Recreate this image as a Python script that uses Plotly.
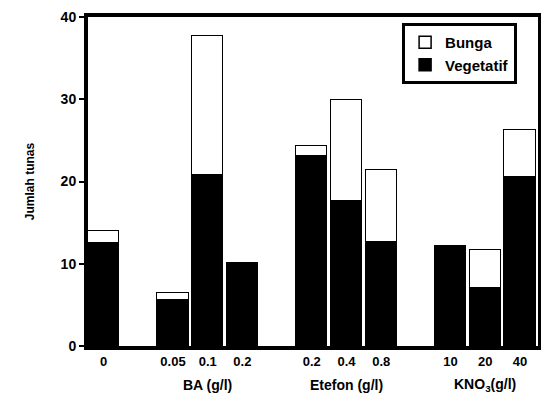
import plotly.graph_objects as go

# ---- data ----
group_names = ["", "BA (g/l)", "Etefon (g/l)", "KNO<sub>3</sub>(g/l)"]
group_ticks = [["0"], ["0.05", "0.1", "0.2"], ["0.2", "0.4", "0.8"], ["10", "20", "40"]]
vegetatif = [12.5, 5.6, 20.8, 10.1, 23.1, 17.6, 12.7, 12.2, 7.0, 20.6]
total = [14.0, 6.4, 37.7, 10.1, 24.3, 29.9, 21.4, 12.2, 11.7, 26.3]
bunga = [round(t - v, 2) for t, v in zip(total, vegetatif)]

# slot positions: one empty slot between groups
xpos, ticktext, group_centers = [], [], []
slot = 0
for gi, ticks in enumerate(group_ticks):
    if gi > 0:
        slot += 1
    start = slot
    for t in ticks:
        xpos.append(slot)
        ticktext.append(t)
        slot += 1
    group_centers.append((start + slot - 1) / 2)

FONT = "Liberation Sans"

fig = go.Figure()
fig.add_trace(go.Bar(x=xpos, y=vegetatif, name="<b>Vegetatif</b>", width=0.9,
                     marker=dict(color="black", line=dict(color="black", width=1.5))))
fig.add_trace(go.Bar(x=xpos, y=bunga, name="<b>Bunga</b>", width=0.9,
                     marker=dict(color="white", line=dict(color="black", width=1.5))))

for name, cx in zip(group_names, group_centers):
    if name:
        fig.add_annotation(x=cx, y=-0.12, xref="x", yref="paper", text="<b>" + name + "</b>",
                           showarrow=False, font=dict(family=FONT, size=14, color="black"),
                           yanchor="middle")

# the page body adds an 8px offset, so the figure is 8px smaller and margins shifted
fig.update_layout(
    width=541, height=394,
    margin=dict(l=80, r=11, t=9, b=56, autoexpand=False),
    paper_bgcolor="white", plot_bgcolor="white",
    barmode="stack", bargap=0,
    font=dict(family=FONT, color="black"),
    legend=dict(x=0.698, y=0.982, xanchor="left", yanchor="top",
                traceorder="reversed", bordercolor="black", borderwidth=3,
                bgcolor="white", font=dict(family=FONT, size=15, color="black"),
                itemwidth=30, tracegroupgap=2),
    xaxis=dict(range=[-0.45, 12.52], tickmode="array", tickvals=xpos,
               ticktext=["<b>" + t + "</b>" for t in ticktext],
               tickfont=dict(family=FONT, size=13, color="black"), automargin=False,
               showgrid=False, zeroline=False, showline=True, linecolor="black",
               linewidth=4, mirror=True, ticks=""),
    yaxis=dict(range=[0, 40], tickvals=[0, 10, 20, 30, 40], automargin=False,
               ticktext=["<b>0</b>", "<b>10</b>", "<b>20</b>", "<b>30</b>", "<b>40</b>"],
               tickfont=dict(family=FONT, size=14, color="black"),
               ticklabeloverflow="allow",
               showgrid=False, zeroline=False, showline=True, linecolor="black",
               linewidth=4, mirror=True, ticks="outside", ticklen=5, tickwidth=2,
               tickcolor="black",
               title=dict(text="<b>Jumlah tunas</b>", font=dict(family=FONT, size=12, color="black"),
                          standoff=24)),
)

fig.write_html("out.html")
